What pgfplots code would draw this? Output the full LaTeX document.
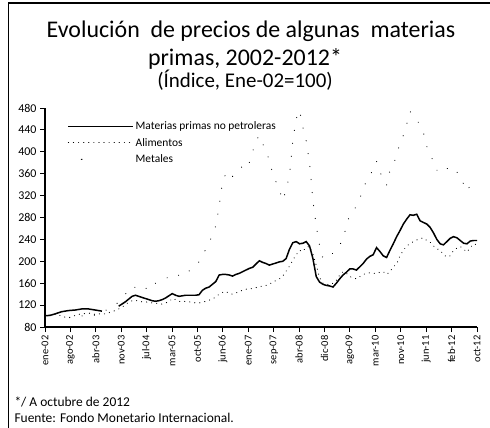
\documentclass[border=0pt]{standalone}
\usepackage{fontspec}
\setmainfont{Carlito}
\usepackage{pgfplots}
\usepackage{pgfplotstable}
\pgfplotsset{compat=1.18}
\pgfplotstableread{
m S A M
0 101 101 100
1 101 100 102
2 102 101 104
3 104 103 106
4 106 102 105
5 108 100 104
6 109 98 102
7 110 97 98
8 110.5 99 96
9 111 101 96
10 112 103 99
11 113 104 100
12 113 104.5 103
13 113 105.5 105
14 112 104 103
15 111 103 101
16 110 104 104
17 109 104 107
18 nan 104 110
19 nan 106 113
20 nan 108 116
21 nan 110 120
22 118 113 126
23 122 116 133
24 126 121 140
25 131 125 148
26 136 128 155
27 138 129 152
28 136 127 146
29 134 126 148
30 132 126 150
31 130 125 153
32 128 124 150
33 127 124 160
34 128 122 163
35 130 122 165
36 133 124 168
37 137 126 172
38 141 132 176
39 138 130 178
40 136 127 174
41 137 126 172
42 138 127 176
43 138 126 182
44 138 125 190
45 138 124 194
46 139 124 199
47 147 125 210
48 151 127 222
49 153 129 232
50 158 131 250
51 163 135 265
52 175 140 300
53 176 143 345
54 176 145 360
55 175 141 350
56 173 140 355
57 176 142 360
58 178 145 365
59 181 147 375
60 184 149 370
61 187 150 380
62 189 150 400
63 195 152 420
64 201 153 430
65 198 155 415
66 196 156 400
67 193 158 385
68 195 162 360
69 197 165 345
70 199 168 330
71 200 173 311
72 205 182 330
73 222 191 357
74 234 202 420
75 236 212 460
76 232 220 476
77 233 218 445
78 236 226 420
79 228 227 380
80 205 213 311
81 172 193 265
82 162 170 228
83 158 160 205
84 156 158 205
85 155 157 210
86 153 160 215
87 160 165 220
88 168 175 230
89 175 181 240
90 180 178 265
91 186 172 285
92 186 170 293
93 184 168 300
94 190 172 315
95 196 176 330
96 204 178 348
97 209 179 355
98 212 178 370
99 225 178 383
100 218 180 364
101 210 181 348
102 207 176 339
103 220 181 366
104 232 190 375
105 245 195 395
106 256 210 415
107 268 220 430
108 277 228 450
109 285 232 474
110 284 236 465
111 286 239 458
112 274 241 449
113 271 243 435
114 268 238 410
115 262 235 400
116 252 228 379
117 240 223 366
118 232 220 372
119 230 212 375
120 236 208 370
121 242 210 366
122 245 220 360
123 243 224 364
124 238 227 346
125 233 222 342
126 232 217 328
127 237 225 339
128 238 232 335
129 238 230 340
}\data
\begin{document}
\begin{tikzpicture}
\path[use as bounding box] (0bp,0bp) rectangle (490bp,-428bp);
\draw[line width=1.2pt] (8bp,-3bp) -- (490bp,-3bp);
\draw[line width=0.8pt] (8bp,-3bp) -- (8bp,-428bp);
\node[font=\fontsize{24}{28}\selectfont, anchor=base] at (251bp,-37bp) {Evolución\hspace{0.45em}de precios de algunas\hspace{0.45em}materias};
\node[font=\fontsize{24}{28}\selectfont, anchor=base] at (245bp,-65bp) {primas, 2002-2012*};
\node[font=\fontsize{21}{25}\selectfont, anchor=base] at (245bp,-87bp) {(Índice, Ene-02=100)};
\begin{axis}[
  at={(45bp,-327bp)}, anchor=south west,
  scale only axis, width=432bp, height=219bp,
  xmin=0, xmax=129, ymin=80, ymax=480,
  ytick={80,120,...,480},
  xtick={0,7.588,15.176,22.765,30.353,37.941,45.529,53.118,60.706,68.294,75.882,83.471,91.059,98.647,106.235,113.824,121.412,129},
  xticklabels={ene-02,ago-02,abr-03,nov-03,jul-04,mar-05,oct-05,jun-06,ene-07,sep-07,abr-08,dic-08,ago-09,mar-10,nov-10,jun-11,feb-12,oct-12},
  xticklabel style={rotate=90, anchor=east, font=\fontsize{10.5}{12}\selectfont},
  yticklabel style={font=\fontsize{12}{14}\selectfont},
  /pgf/number format/assume math mode=true,
  axis x line*=bottom, axis y line*=left,
  axis line style={line width=1.2pt, -},
  tick align=outside, major tick length=5bp,
  tick style={line width=0.9pt, black},
  legend style={at={(rel axis cs:0.052,0.945)}, anchor=north west, draw=none, fill=none,
    font=\fontsize{11.5}{12}\selectfont, row sep=4bp, inner sep=0pt, nodes={inner sep=1.5bp}},
  legend cell align=left,
  legend image code/.code={\draw[#1] (0bp,0bp) -- (65bp,0bp);},
]
\addplot[black, line width=1.5pt, unbounded coords=jump] table[x=m,y=S]{\data};
\addlegendentry{Materias primas no petroleras}
\addplot[black, line width=1.1pt, line cap=round, dash pattern=on 0.1pt off 5pt] table[x=m,y=A]{\data};
\addlegendentry{Alimentos}
\addplot[black, line width=1.1pt, line cap=round, dash pattern=on 0.1pt off 13pt,
  legend image code/.code={\fill (13bp,0bp) circle (0.6pt);}] table[x=m,y=M]{\data};
\addlegendentry{Metales}
\end{axis}
\node[anchor=base west, font=\fontsize{13.5}{15}\selectfont] at (11bp,-406bp) {*/ A octubre de 2012};
\node[anchor=base west, font=\fontsize{13.5}{15}\selectfont] at (11bp,-422bp) {Fuente: Fondo Monetario Internacional.};
\end{tikzpicture}
\end{document}
